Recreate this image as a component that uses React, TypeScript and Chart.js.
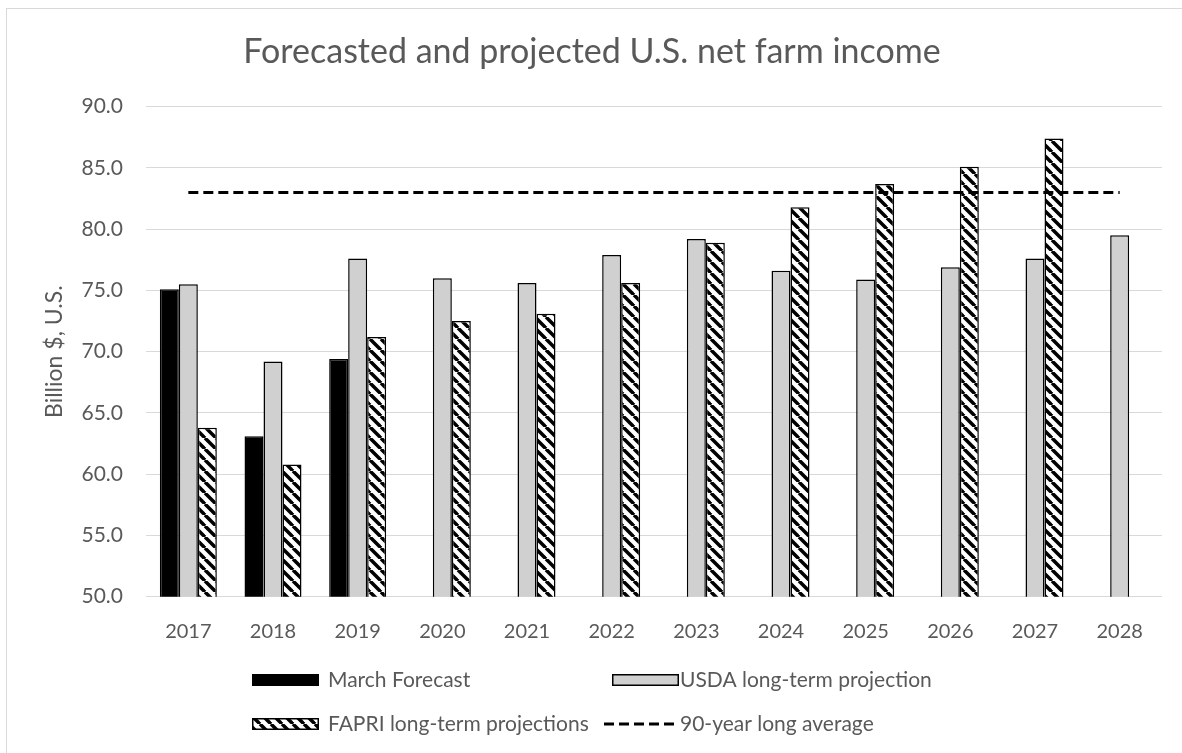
import React, { useEffect, useRef } from "react";
import { Chart, registerables } from "chart.js";

Chart.register(...registerables);

const years = ["2017", "2018", "2019", "2020", "2021", "2022", "2023", "2024", "2025", "2026", "2027", "2028"];
const marchForecast = [75.1, 63.1, 69.4, null, null, null, null, null, null, null, null, null];
const usdaProjection = [75.5, 69.2, 77.6, 76.0, 75.6, 77.9, 79.2, 76.6, 75.9, 76.9, 77.6, 79.5];
const fapriProjection = [63.8, 60.8, 71.2, 72.5, 73.1, 75.6, 78.9, 81.8, 83.7, 85.1, 87.4, null];
const longAverage = [83.0, 83.0, 83.0, 83.0, 83.0, 83.0, 83.0, 83.0, 83.0, 83.0, 83.0, 83.0];
const yTicks = { min: 50, max: 90, step: 5 };

const seriesNames = ["March Forecast", "USDA long-term projection", "FAPRI long-term projections", "90-year long average"];
const titleText = "Forecasted and projected U.S. net farm income";
const yTitle = "Billion $, U.S.";

const FONT = "Lato";
const TEXT = "#595959";
const GRID = "#d9d9d9";
const GRAY = "#d0d0d0";

function makeHatch(): CanvasPattern | string {
  const s = 11;
  const c = document.createElement("canvas");
  c.width = s;
  c.height = s;
  const g = c.getContext("2d");
  if (!g) return "#fff";
  g.fillStyle = "#fff";
  g.fillRect(0, 0, s, s);
  g.strokeStyle = "#000";
  g.lineWidth = 3.5;
  for (const o of [-s, 0, s]) {
    g.beginPath();
    g.moveTo(o, 0);
    g.lineTo(o + s, s);
    g.stroke();
  }
  return g.createPattern(c, "repeat") || "#fff";
}

export default function App() {
  const ref = useRef<HTMLCanvasElement | null>(null);

  useEffect(() => {
    let chart: Chart | null = null;
    let cancelled = false;
    const build = () => {
      if (cancelled || !ref.current) return;
      const hatch = makeHatch();

      const legendPlugin = {
        id: "gridLegend",
        afterDraw(c: any) {
          const ctx: CanvasRenderingContext2D = c.ctx;
          ctx.save();
          ctx.font = `21px ${FONT}`;
          ctx.fillStyle = TEXT;
          ctx.textBaseline = "middle";
          ctx.textAlign = "left";
          const col1 = 245;
          const col2 = 605;
          const row1 = 671;
          const row2 = 715;
          const bw = 67;
          const bh = 12;
          // March
          ctx.fillStyle = "#000";
          ctx.fillRect(col1, row1 - bh / 2, bw, bh);
          // USDA
          ctx.fillStyle = GRAY;
          ctx.fillRect(col2, row1 - bh / 2, bw, bh);
          ctx.strokeStyle = "#000";
          ctx.lineWidth = 1.5;
          ctx.strokeRect(col2 + 0.75, row1 - bh / 2 + 0.75, bw - 1.5, bh - 1.5);
          // FAPRI
          ctx.fillStyle = hatch as any;
          ctx.fillRect(col1, row2 - bh / 2, bw, bh);
          ctx.strokeRect(col1 + 0.75, row2 - bh / 2 + 0.75, bw - 1.5, bh - 1.5);
          // line
          ctx.beginPath();
          ctx.setLineDash([10, 5]);
          ctx.lineWidth = 3;
          ctx.moveTo(col2 - 8, row2);
          ctx.lineTo(col2 + 64, row2);
          ctx.stroke();
          ctx.setLineDash([]);
          ctx.fillStyle = TEXT;
          ctx.fillText(seriesNames[0], col1 + 76, row1);
          ctx.fillText(seriesNames[1], col2 + 68, row1);
          ctx.fillText(seriesNames[2], col1 + 76, row2);
          ctx.fillText(seriesNames[3], col2 + 68, row2);
          ctx.restore();
        },
      };

      chart = new Chart(ref.current, {
        type: "bar",
        data: {
          labels: years,
          datasets: [
            {
              type: "line",
              label: seriesNames[3],
              data: longAverage,
              borderColor: "#000",
              borderWidth: 3,
              borderDash: [10, 5],
              pointRadius: 0,
              fill: false,
              order: -1,
            } as any,
            {
              label: seriesNames[0],
              data: marchForecast,
              backgroundColor: "#000",
              borderColor: "#000",
              borderWidth: 1.5,
              borderSkipped: false,
            },
            {
              label: seriesNames[1],
              data: usdaProjection,
              backgroundColor: GRAY,
              borderColor: "#000",
              borderWidth: 1.5,
              borderSkipped: false,
            },
            {
              label: seriesNames[2],
              data: fapriProjection,
              backgroundColor: hatch as any,
              borderColor: "#000",
              borderWidth: 1.5,
              borderSkipped: false,
            },
          ],
        },
        options: {
          animation: false,
          responsive: false,
          categoryPercentage: 0.673,
          barPercentage: 1,
          layout: { padding: { top: 0, left: 15, right: 20, bottom: 102.3 } },
          plugins: {
            legend: { display: false },
            tooltip: { enabled: false },
            title: {
              display: true,
              text: titleText,
              color: TEXT,
              font: { family: FONT, size: 34, weight: "normal" },
              padding: { top: 23.1, bottom: 33.8 },
            },
          },
          scales: {
            x: {
              grid: { display: false, drawTicks: false },
              border: { display: false },
              ticks: { color: TEXT, font: { family: FONT, size: 20 }, padding: 23 },
              afterFit: (s: any) => {
                s.height = 60;
              },
            },
            y: {
              min: yTicks.min,
              max: yTicks.max,
              grid: { color: GRID, lineWidth: 1, drawTicks: false },
              border: { display: false },
              ticks: {
                stepSize: yTicks.step,
                color: TEXT,
                font: { family: FONT, size: 21 },
                padding: 23,
                callback: (v: any) => Number(v).toFixed(1),
              },
              title: {
                display: true,
                text: yTitle,
                color: TEXT,
                font: { family: FONT, size: 23 },
                padding: { top: 19, bottom: 0 },
              },
              afterFit: (s: any) => {
                s.width = 124;
              },
            },
          },
        },
        plugins: [legendPlugin],
      });
    };
    const fontsReady = (document as any).fonts?.load
      ? Promise.all([(document as any).fonts.load(`20px ${FONT}`), (document as any).fonts.load(`34px ${FONT}`)]).catch(() => null)
      : Promise.resolve(null);
    fontsReady.then(build);
    return () => {
      cancelled = true;
      if (chart) chart.destroy();
    };
  }, []);

  return (
    <div
      style={{
        position: "absolute",
        left: 6,
        top: 8,
        width: 1175,
        height: 750,
        border: `1px solid ${GRID}`,
        background: "#fff",
      }}
    >
      <canvas ref={ref} width={1175} height={750} style={{ display: "block" }} />
    </div>
  );
}
